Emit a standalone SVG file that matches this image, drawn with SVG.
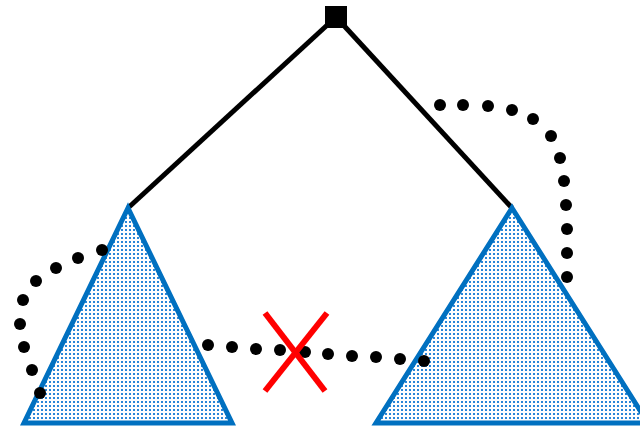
<svg xmlns="http://www.w3.org/2000/svg" width="640" height="429" viewBox="0 0 640 429">
<style>
.edge{stroke:#000;stroke-width:5;fill:none}
.tri{fill:url(#dots);stroke:#0070c0;stroke-width:5;stroke-linejoin:miter}
.d{fill:#000}
.x{stroke:#ff0000;stroke-width:6}
</style>
<defs>
<pattern id="dots" width="4" height="4" patternUnits="userSpaceOnUse">
<rect width="4" height="4" fill="#fff"/>
<rect x="1" y="1" width="2" height="2" fill="#2a86d8"/>
</pattern>
</defs>
<rect width="640" height="429" fill="#fff"/>
<g id="connectors">
<line class="edge" x1="336" y1="17" x2="128" y2="208"/>
<line class="edge" x1="336" y1="17" x2="512" y2="208"/>
</g>
<g id="root"><rect x="325" y="6" width="22" height="22" fill="#000"/></g>
<g id="left-tree"><polygon class="tri" points="128,208 232,423 24,423"/></g>
<g id="right-tree"><polygon class="tri" points="512,208 648,423 376,423"/></g>
<g id="paths">
<circle class="d" cx="102" cy="250" r="6"/>
<circle class="d" cx="78" cy="258" r="6"/>
<circle class="d" cx="56" cy="268" r="6"/>
<circle class="d" cx="36" cy="281" r="6"/>
<circle class="d" cx="23" cy="300" r="6"/>
<circle class="d" cx="20" cy="324" r="6"/>
<circle class="d" cx="24" cy="347" r="6"/>
<circle class="d" cx="32" cy="370" r="6"/>
<circle class="d" cx="40" cy="393" r="6"/>
<circle class="d" cx="208" cy="345" r="6"/>
<circle class="d" cx="232" cy="347" r="6"/>
<circle class="d" cx="256" cy="349" r="6"/>
<circle class="d" cx="280" cy="350" r="6"/>
<circle class="d" cx="305" cy="352" r="6"/>
<circle class="d" cx="328" cy="354" r="6"/>
<circle class="d" cx="352" cy="356" r="6"/>
<circle class="d" cx="376" cy="357" r="6"/>
<circle class="d" cx="400" cy="359" r="6"/>
<circle class="d" cx="424" cy="361" r="6"/>
<circle class="d" cx="440" cy="105" r="6"/>
<circle class="d" cx="463" cy="105" r="6"/>
<circle class="d" cx="488" cy="106" r="6"/>
<circle class="d" cx="512" cy="110" r="6"/>
<circle class="d" cx="533" cy="119" r="6"/>
<circle class="d" cx="551" cy="136" r="6"/>
<circle class="d" cx="560" cy="158" r="6"/>
<circle class="d" cx="564" cy="181" r="6"/>
<circle class="d" cx="566" cy="205" r="6"/>
<circle class="d" cx="567" cy="229" r="6"/>
<circle class="d" cx="567" cy="253" r="6"/>
<circle class="d" cx="567" cy="277" r="6"/>
</g>
<g id="cross">
<line class="x" x1="265" y1="313" x2="325" y2="391"/>
<line class="x" x1="327" y1="313" x2="265" y2="391"/>
</g>
</svg>
